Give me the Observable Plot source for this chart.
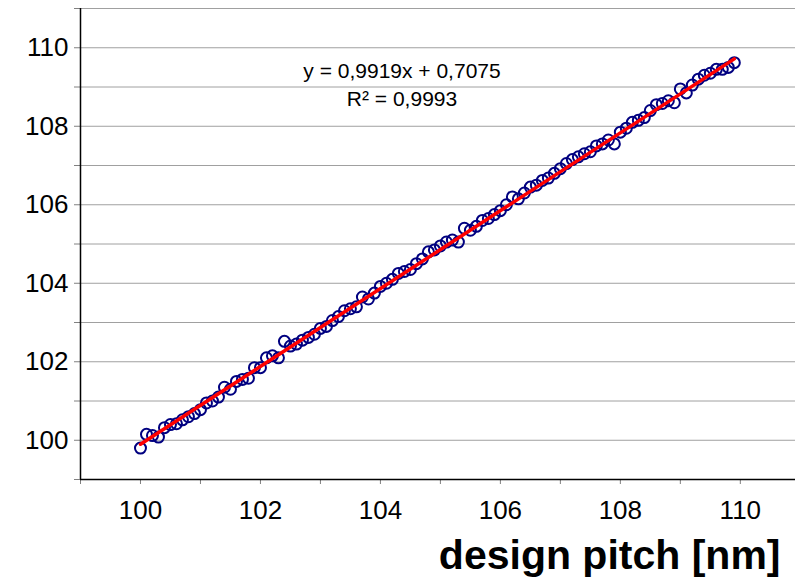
<!DOCTYPE html>
<html>
<head>
<meta charset="utf-8">
<script src="https://cdn.jsdelivr.net/npm/d3@7"></script>
<script src="https://cdn.jsdelivr.net/npm/@observablehq/plot@0.6"></script>
<style>
  html, body { margin: 0; padding: 0; background: #fff; overflow: hidden; }
  #chart svg { display: block; }
</style>
</head>
<body>
<div id="chart"></div>
<script>
const designPitch = [
  100.0,100.1,100.2,100.3,100.4,100.5,100.6,100.7,100.8,100.9,
  101.0,101.1,101.2,101.3,101.4,101.5,101.6,101.7,101.8,101.9,
  102.0,102.1,102.2,102.3,102.4,102.5,102.6,102.7,102.8,102.9,
  103.0,103.1,103.2,103.3,103.4,103.5,103.6,103.7,103.8,103.9,
  104.0,104.1,104.2,104.3,104.4,104.5,104.6,104.7,104.8,104.9,
  105.0,105.1,105.2,105.3,105.4,105.5,105.6,105.7,105.8,105.9,
  106.0,106.1,106.2,106.3,106.4,106.5,106.6,106.7,106.8,106.9,
  107.0,107.1,107.2,107.3,107.4,107.5,107.6,107.7,107.8,107.9,
  108.0,108.1,108.2,108.3,108.4,108.5,108.6,108.7,108.8,108.9,
  109.0,109.1,109.2,109.3,109.4,109.5,109.6,109.7,109.8,109.9
];
const measuredPitch = [
  99.80,100.15,100.12,100.08,100.32,100.40,100.42,100.52,100.60,100.68,
  100.78,100.95,101.00,101.10,101.35,101.30,101.50,101.55,101.58,101.85,
  101.85,102.10,102.15,102.10,102.52,102.40,102.45,102.55,102.62,102.70,
  102.85,102.90,103.05,103.15,103.30,103.35,103.40,103.65,103.60,103.75,
  103.92,104.00,104.10,104.25,104.30,104.35,104.50,104.62,104.80,104.85,
  104.95,105.05,105.10,105.05,105.40,105.35,105.45,105.60,105.65,105.75,
  105.85,106.00,106.20,106.15,106.30,106.45,106.50,106.62,106.68,106.80,
  106.92,107.05,107.15,107.22,107.30,107.35,107.50,107.55,107.65,107.55,
  107.85,107.95,108.10,108.15,108.22,108.40,108.55,108.58,108.65,108.60,
  108.95,108.85,109.05,109.20,109.30,109.35,109.45,109.45,109.50,109.62
];
const fitSlope = 0.9919;
const fitIntercept = 0.7075;
const equationLines = ["y = 0,9919x + 0,7075", "R² = 0,9993"];
const xTickLabels = [100, 102, 104, 106, 108, 110];
const xMinorTicks = [99, 100, 101, 102, 103, 104, 105, 106, 107, 108, 109, 110];
const yTickLabels = [100, 102, 104, 106, 108, 110];
const yMinorTicks = [99, 100, 101, 102, 103, 104, 105, 106, 107, 108, 109, 110, 111];
const gridValues = [100, 101, 102, 103, 104, 105, 106, 107, 108, 109, 110, 111];
const xLabel = "design pitch [nm]";
const xDomain = [99, 110.92];
const yDomain = [99, 111];

const points = designPitch.map((x, i) => ({x, y: measuredPitch[i]}));
const fitEnds = [designPitch[0], designPitch[designPitch.length - 1]];
const fitLine = fitEnds.map(x => ({x, y: fitSlope * x + fitIntercept}));

const font = "'Liberation Sans', Arial, Helvetica, sans-serif";

const chart = Plot.plot({
  width: 795,
  height: 581,
  marginLeft: 80,
  marginRight: 0,
  marginTop: 8,
  marginBottom: 102,
  style: {fontFamily: font, fontSize: "26px", color: "#000", background: "#fff"},
  x: {domain: xDomain, label: null},
  y: {domain: yDomain, label: null},
  marks: [
    Plot.ruleY(gridValues, {stroke: "#a0a0a0", strokeWidth: 1}),
    Plot.axisY({ticks: yMinorTicks, tickSize: 6, tickFormat: () => "", stroke: "#808080", strokeWidth: 1, label: null}),
    Plot.axisY({ticks: yTickLabels, tickSize: 0, tickPadding: 12, fontSize: 26, fill: "#000", label: null}),
    Plot.axisX({ticks: xMinorTicks, tickSize: 5, tickFormat: () => "", stroke: "#808080", strokeWidth: 1, label: null}),
    Plot.axisX({ticks: xTickLabels, tickSize: 0, tickPadding: 21, fontSize: 26, fill: "#000", label: null}),
    Plot.ruleX([xDomain[0]], {stroke: "#000", strokeWidth: 1.5}),
    Plot.ruleY([yDomain[0]], {stroke: "#000", strokeWidth: 1.5}),
    Plot.dot(points, {x: "x", y: "y", r: 5.5, stroke: "#000080", strokeWidth: 2, fill: "none"}),
    Plot.line(fitLine, {x: "x", y: "y", stroke: "#ff0000", strokeWidth: 3.5}),
    Plot.text([equationLines[0]], {frameAnchor: "top", dx: -36, dy: 69, lineAnchor: "bottom", textAnchor: "middle", fontSize: 21, fill: "#000"}),
    Plot.text([equationLines[1]], {frameAnchor: "top", dx: -36, dy: 97, lineAnchor: "bottom", textAnchor: "middle", fontSize: 21, fill: "#000"}),
    Plot.text([xLabel], {frameAnchor: "bottom-right", dx: -15, dy: 89, lineAnchor: "bottom", textAnchor: "end", fontSize: 41, fontWeight: "bold", fill: "#000"})
  ]
});
document.getElementById("chart").appendChild(chart);
</script>
</body>
</html>
